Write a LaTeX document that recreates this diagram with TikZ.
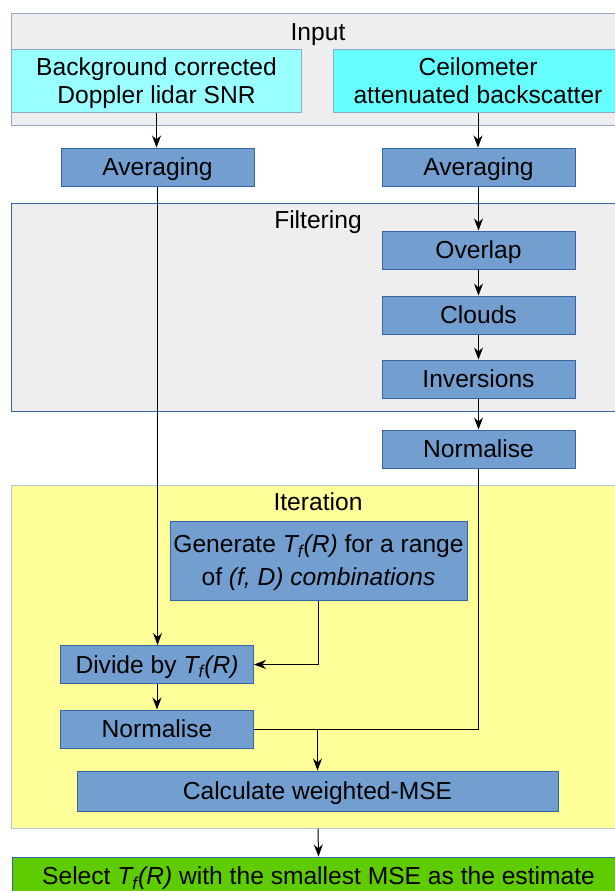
\documentclass[tikz,border=0pt]{standalone}
\usepackage{fontspec}
\setmainfont{Liberation Sans}
\usetikzlibrary{arrows.meta}
\definecolor{boxfill}{HTML}{729FCF}
\definecolor{boxline}{HTML}{3465A4}
\definecolor{greyfill}{HTML}{EEEEEE}
\definecolor{inline}{HTML}{8FA8C8}
\definecolor{cyanL}{HTML}{99FFFF}
\definecolor{cyanR}{HTML}{66FFFF}
\definecolor{yelfill}{HTML}{FFFF99}
\definecolor{yelline}{HTML}{B4C7DC}
\definecolor{grnfill}{HTML}{5ECC00}
\newcommand{\Tf}{\textit{T\textsubscript{f}(R)}}
\begin{document}
\begin{tikzpicture}[x=0.5pt, y=-0.5pt, >={Stealth[length=6pt,width=4.5pt]},
    every node/.style={font=\fontsize{12.3}{14}\selectfont, inner sep=0pt, text depth=0pt},
    group/.style={draw=boxline, line width=0.5pt, fill=greyfill},
    proc/.style={draw=boxline, line width=0.5pt, fill=boxfill, minimum width=96.5pt, minimum height=19pt},
    src/.style={draw=inline, line width=0.5pt, minimum width=145pt, minimum height=31.5pt, align=center},
    link/.style={line width=0.5pt, ->}]
    \useasboundingbox (0,0) rectangle (615,891);
    % groups
    \node[group, draw=inline, minimum width=307pt, minimum height=56pt] (input) at (318,69) {};
    \node[group, minimum width=307pt, minimum height=104pt] (filter) at (318,307) {};
    \node[group, draw=yelline, fill=yelfill, minimum width=307pt, minimum height=171.5pt] (iter) at (318,656.5) {};
    \node (inputlbl) at (318,32) {Input};
    \node (filterlbl) at (318,220) {Filtering};
    \node (iterlbl) at (318,502) {Iteration};
    % input data
    \node[src, fill=cyanL] (snr) at (156.5,80.5) {Background corrected\\Doppler lidar SNR};
    \node[src, fill=cyanR] (beta) at (478,80.5) {Ceilometer\\attenuated backscatter};
    % processing steps
    \node[proc] (avgL) at (157.5,167) {Averaging};
    \node[proc] (avgR) at (478.5,167) {Averaging};
    \node[proc] (overlap) at (478.5,250) {Overlap};
    \node[proc] (clouds) at (478.5,315) {Clouds};
    \node[proc] (inv) at (478.5,379) {Inversions};
    \node[proc] (normR) at (478.5,449) {Normalise};
    \node[proc, minimum width=148.5pt, minimum height=39.5pt, align=center,
          font=\fontsize{12.3}{16.5}\selectfont] (gen) at (318.5,560.5)
          {Generate \Tf{} for a range\\of \textit{(f, D) combinations}};
    \node[proc] (div) at (157,664.5) {Divide by \Tf};
    \node[proc] (normL) at (157,729) {Normalise};
    \node[proc, minimum width=240.5pt, minimum height=20pt] (calc) at (317.5,791) {Calculate weighted-MSE};
    \node[draw=boxline, line width=0.5pt, fill=grnfill, minimum width=306.5pt, minimum height=19pt]
          (select) at (318.5,876) {Select \Tf{} with the smallest MSE as the estimate};
    \coordinate (join) at (calc.north |- normL.east);
    % connectors
    \draw[link] (snr) -- (snr.south |- avgL.north);
    \draw[link] (beta) -- (beta.south |- avgR.north);
    \draw[link] (avgL.south) -- (avgL.south |- div.north);
    \draw[link] (avgR) -- (overlap);
    \draw[link] (overlap) -- (clouds);
    \draw[link] (clouds) -- (inv);
    \draw[link] (inv) -- (normR);
    \draw[link] (gen.south) |- (div.east);
    \draw[link] (div) -- (normL);
    \draw[line width=0.5pt] (normR.south) |- (normL.east);
    \draw[link] (join) -- (calc.north);
    \draw[link] (iter.south) -- (select.north);
\end{tikzpicture}
\end{document}
